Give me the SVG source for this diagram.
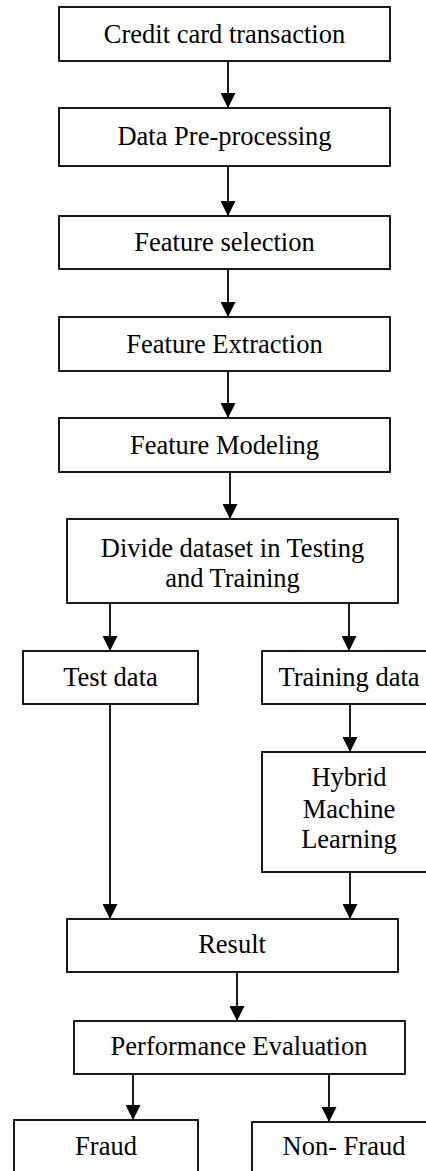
<svg xmlns="http://www.w3.org/2000/svg" width="426" height="1171" viewBox="0 0 426 1171">
<style>
.box{fill:#fff;stroke:#000;stroke-width:1.8}
.t{font-family:"Liberation Serif","Times New Roman",serif;font-size:26.5px;fill:#000;text-anchor:middle}
.c{stroke:#000;stroke-width:1.8;fill:none;marker-end:url(#ah)}
</style>
<defs>
<marker id="ah" viewBox="0 0 10 10" refX="10" refY="5" markerUnits="userSpaceOnUse" markerWidth="15" markerHeight="15" orient="auto">
<path d="M0,0 L10,5 L0,10 z" fill="#000"/>
</marker>
</defs>
<rect width="426" height="1171" fill="#fff"/>
<g id="connectors">
<line class="c" x1="228" y1="61" x2="228" y2="108"/>
<line class="c" x1="228" y1="166" x2="228" y2="216"/>
<line class="c" x1="228" y1="269" x2="228" y2="317"/>
<line class="c" x1="228" y1="371" x2="228" y2="418"/>
<line class="c" x1="230" y1="472" x2="230" y2="519"/>
<line class="c" x1="110" y1="603" x2="110" y2="651"/>
<line class="c" x1="349" y1="603" x2="349" y2="651"/>
<line class="c" x1="350" y1="704" x2="350" y2="752"/>
<line class="c" x1="110" y1="704" x2="110" y2="919"/>
<line class="c" x1="350" y1="872" x2="350" y2="919"/>
<line class="c" x1="237" y1="972" x2="237" y2="1021"/>
<line class="c" x1="133" y1="1074" x2="133" y2="1120"/>
<line class="c" x1="329" y1="1074" x2="329" y2="1122"/>
</g>
<g id="n1"><rect class="box" x="59" y="7" width="331" height="54"/><text class="t" x="224.5" y="43">Credit card transaction</text></g>
<g id="n2"><rect class="box" x="59" y="108" width="331" height="58"/><text class="t" x="224.5" y="145">Data Pre-processing</text></g>
<g id="n3"><rect class="box" x="59" y="216" width="331" height="53"/><text class="t" x="224.5" y="251">Feature selection</text></g>
<g id="n4"><rect class="box" x="59" y="317" width="331" height="54"/><text class="t" x="224.5" y="353">Feature Extraction</text></g>
<g id="n5"><rect class="box" x="59" y="418" width="331" height="54"/><text class="t" x="224.5" y="454">Feature Modeling</text></g>
<g id="n6"><rect class="box" x="67" y="519" width="331" height="84"/><text class="t" x="232.5" y="557">Divide dataset in Testing</text><text class="t" x="232.5" y="587">and Training</text></g>
<g id="n7"><rect class="box" x="23" y="651" width="175" height="53"/><text class="t" x="110.5" y="686">Test data</text></g>
<g id="n8"><rect class="box" x="262" y="651" width="174" height="53"/><text class="t" x="349" y="686">Training data</text></g>
<g id="n9"><rect class="box" x="262" y="752" width="174" height="120"/><text class="t" x="349" y="786">Hybrid</text><text class="t" x="349" y="818">Machine</text><text class="t" x="349" y="848">Learning</text></g>
<g id="n10"><rect class="box" x="67" y="919" width="331" height="53"/><text class="t" x="232" y="953">Result</text></g>
<g id="n11"><rect class="box" x="74" y="1021" width="331" height="53"/><text class="t" x="239" y="1055">Performance Evaluation</text></g>
<g id="n12"><rect class="box" x="14" y="1120" width="184" height="70"/><text class="t" x="106" y="1155">Fraud</text></g>
<g id="n13"><rect class="box" x="252" y="1122" width="184" height="70"/><text class="t" x="344" y="1155">Non- Fraud</text></g>
</svg>
